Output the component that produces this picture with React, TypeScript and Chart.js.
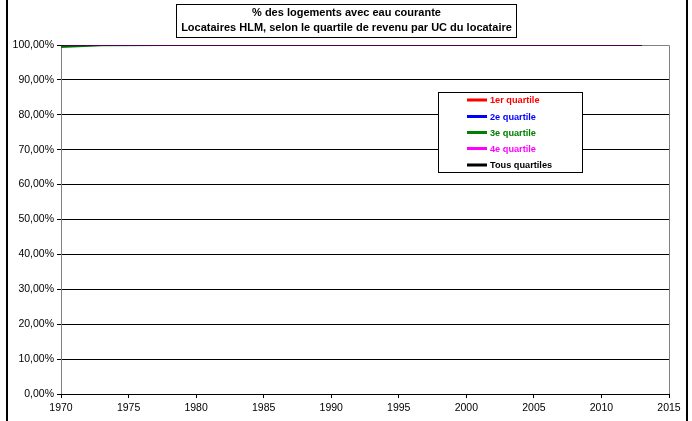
import React, { useEffect, useRef } from "react";
import { Chart, registerables } from "chart.js";

Chart.register(...registerables);

const titleLines = [
  "% des logements avec eau courante",
  "Locataires HLM, selon le quartile de revenu par UC du locataire",
];
const years = [1970, 1973, 1978, 1984, 1988, 1992, 1996, 2002, 2006, 2013];
const q1 = [100, 100, 100, 100, 100, 100, 100, 100, 100, 100];
const q2 = [100, 100, 100, 100, 100, 100, 100, 100, 100, 100];
const q3 = [99.4, 99.9, 100, 100, 100, 100, 100, 100, 100, 100];
const q4 = [100, 100, 100, 100, 100, 100, 100, 100, 100, 100];
const all = [99.9, 100, 100, 100, 100, 100, 100, 100, 100, 100];
const seriesNames = ["1er quartile", "2e quartile", "3e quartile", "4e quartile", "Tous quartiles"];
const seriesColors = ["#ff0000", "#0000ff", "#008000", "#ff00ff", "#000000"];
const seriesValues = [q1, q2, q3, q4, all];

const FONT = "'Liberation Sans', Arial, sans-serif";

const framePlugin = {
  id: "frame",
  beforeDraw(chart: any) {
    const ctx = chart.ctx;
    ctx.save();
    ctx.fillStyle = "#ffffff";
    ctx.fillRect(0, 0, chart.width, chart.height);
    ctx.restore();
  },
  beforeDatasetsDraw(chart: any) {
    const { ctx, chartArea: a } = chart;
    ctx.save();
    ctx.strokeStyle = "#808080";
    ctx.lineWidth = 1;
    ctx.beginPath();
    ctx.moveTo(a.left + 0.5, a.bottom);
    ctx.lineTo(a.left + 0.5, a.top + 0.5);
    ctx.lineTo(a.right + 0.5, a.top + 0.5);
    ctx.lineTo(a.right + 0.5, a.bottom);
    ctx.stroke();
    ctx.strokeStyle = "#000000";
    ctx.beginPath();
    ctx.moveTo(a.left, a.bottom + 0.5);
    ctx.lineTo(a.right + 1, a.bottom + 0.5);
    ctx.stroke();
    ctx.restore();
  },
  afterDraw(chart: any) {
    const ctx = chart.ctx;
    ctx.save();
    // outer black bars
    ctx.fillStyle = "#000000";
    ctx.fillRect(6, 0, 2, chart.height);
    ctx.fillRect(686, 0, 2, chart.height);
    // title box
    ctx.fillStyle = "#ffffff";
    ctx.fillRect(176, 4, 340, 34);
    ctx.strokeStyle = "#000000";
    ctx.lineWidth = 1;
    ctx.strokeRect(176.5, 4.5, 340, 33);
    ctx.fillStyle = "#000000";
    ctx.font = "bold 11px " + FONT;
    ctx.textAlign = "center";
    ctx.textBaseline = "middle";
    ctx.fillText(titleLines[0], 346.5, 13);
    ctx.fillText(titleLines[1], 346.5, 27.5);
    // legend box
    ctx.fillStyle = "#ffffff";
    ctx.fillRect(438, 92, 144, 80);
    ctx.strokeRect(438.5, 92.5, 144, 80);
    ctx.font = "bold 9.2px " + FONT;
    ctx.textAlign = "left";
    const rows = [100, 116.5, 132.5, 148.5, 165];
    for (let i = 0; i < seriesNames.length; i++) {
      const y = rows[i];
      ctx.fillStyle = seriesColors[i];
      ctx.fillRect(467, y - 1.5, 20, 3);
      ctx.fillText(seriesNames[i], 490, y + 0.5);
    }
    ctx.restore();
  },
};

export default function App() {
  const ref = useRef<HTMLCanvasElement | null>(null);
  useEffect(() => {
    document.body.style.margin = "0";
    const canvas = ref.current!;
    const drawColors = ["#ff0000", "#0000ff", "#008000", "rgba(255,0,255,0.3)", "#000000"];
    const drawOrder = [4, 3, 5, 1, 2];
    const datasets = seriesNames.map((name, i) => ({
      label: name,
      data: years.map((y, j) => ({ x: y, y: seriesValues[i][j] })),
      borderColor: drawColors[i],
      backgroundColor: seriesColors[i],
      borderWidth: 2,
      pointRadius: 0,
      tension: 0,
      order: drawOrder[i],
    }));
    const chart = new Chart(canvas, {
      type: "line",
      data: { datasets },
      plugins: [framePlugin],
      options: {
        responsive: false,
        animation: false,
        devicePixelRatio: 1,
        layout: { padding: { left: 0, right: 23, top: 45, bottom: 0 } },
        plugins: {
          legend: { display: false },
          title: { display: false },
          tooltip: { enabled: false },
        },
        scales: {
          x: {
            type: "linear",
            min: 1970,
            max: 2015,
            ticks: {
              stepSize: 5,
              color: "#000000",
              font: { family: FONT, size: 10.5 },
              padding: 4,
              maxRotation: 0,
              callback: (v: any) => String(v),
            },
            grid: { display: true, drawOnChartArea: false, drawTicks: true, tickLength: 4, color: "#000000" },
            border: { display: false },
            afterFit: (s: any) => {
              s.height = 421 - 394;
            },
          },
          y: {
            min: 0,
            max: 100,
            ticks: {
              stepSize: 10,
              color: "#000000",
              font: { family: FONT, size: 10.5 },
              padding: 3,
              callback: (v: any) => Number(v).toFixed(2).replace(".", ",") + "%",
            },
            grid: { color: "#000000", lineWidth: 1, drawTicks: true, tickLength: 4 },
            border: { display: false },
            afterFit: (s: any) => {
              s.width = 61;
            },
          },
        },
      },
    });
    return () => chart.destroy();
  }, []);
  return (
    <div style={{ position: "absolute", left: 0, top: 0, width: 692, height: 421 }}>
      <canvas ref={ref} width={692} height={421} style={{ width: 692, height: 421, display: "block" }} />
    </div>
  );
}
